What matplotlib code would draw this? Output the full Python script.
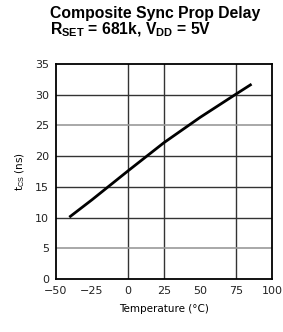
import matplotlib.pyplot as plt

plt.rcParams['mathtext.fontset'] = 'custom'
plt.rcParams['mathtext.rm'] = 'Liberation Sans'
plt.rcParams['mathtext.bf'] = 'Liberation Sans:bold'

temps = [-40, -25, 0, 25, 50, 75, 85]
tcs = [10.2, 12.9, 17.6, 22.2, 26.3, 30.1, 31.6]
xticks = [-50, -25, 0, 25, 50, 75, 100]
yticks = [0, 5, 10, 15, 20, 25, 30, 35]

fig = plt.figure(figsize=(2.83, 3.32), dpi=100)
ax = fig.add_axes([56/283, 1 - 279/332, 216/283, 215/332])

# grid lines, some drawn lighter as in the original
for t in [0, 25, 75]:
    ax.axvline(t, color='#333333', lw=1.0, zorder=1)
for v in [10, 15, 20, 30]:
    ax.axhline(v, color='#333333', lw=1.0, zorder=1)
for v in [5, 25]:
    ax.axhline(v, color='#999999', lw=1.2, zorder=1)

ax.plot(temps, tcs, color='black', lw=2.0, zorder=3)

ax.set_xlim(-50, 100)
ax.set_ylim(0, 35)
ax.set_xticks(xticks)
ax.set_yticks(yticks)
ax.tick_params(length=0, labelsize=8, colors='#222222', pad=5)
for s in ax.spines.values():
    s.set_linewidth(1.3)

ax.set_xlabel('Temperature (°C)', fontsize=7.5, labelpad=6)
ax.set_ylabel('t$_{\\rm CS}$ (ns)', fontsize=7.5, labelpad=6)

fig.text(50/283, 1 - 18/332, 'Composite Sync Prop Delay', fontsize=11.3,
         fontweight='bold', family='Liberation Sans', ha='left', va='baseline')
fig.text(50/283, 1 - 34/332, 'R$_{\\bf SET}$ = 681k, V$_{\\bf DD}$ = 5V', fontsize=11.3,
         fontweight='bold', family='Liberation Sans', ha='left', va='baseline')

fig.savefig('out.png', dpi=100)
